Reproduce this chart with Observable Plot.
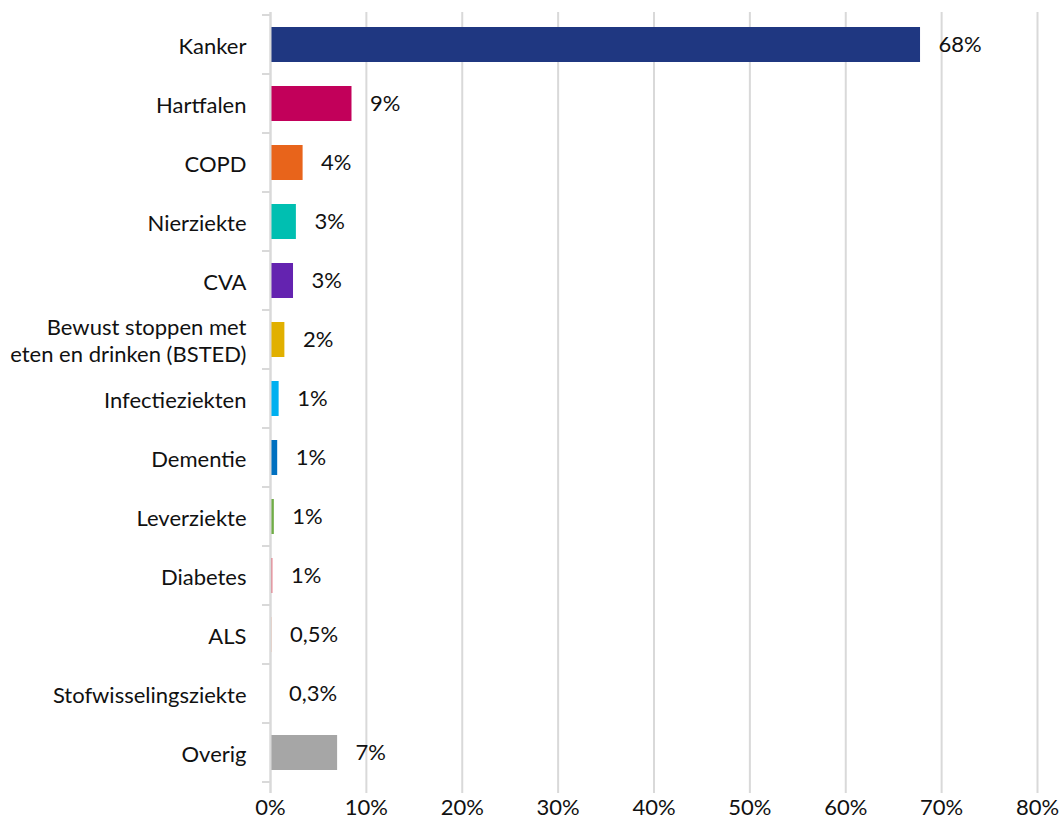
<!DOCTYPE html>
<html><head><meta charset="utf-8">
<script src="https://cdn.jsdelivr.net/npm/d3@7"></script>
<script src="https://cdn.jsdelivr.net/npm/@observablehq/plot@0.6"></script>
<style>body{margin:0;background:#fff}#c{font-family:Lato,sans-serif}</style>
</head><body><div id="c"></div>
<script>
const categories = ["Kanker","Hartfalen","COPD","Nierziekte","CVA","Bewust stoppen met\neten en drinken (BSTED)","Infectieziekten","Dementie","Leverziekte","Diabetes","ALS","Stofwisselingsziekte","Overig"];
const values = [67.8, 8.5, 3.4, 2.7, 2.4, 1.5, 0.9, 0.75, 0.4, 0.25, 0.15, 0.05, 7.0];
const valueLabels = ["68%","9%","4%","3%","3%","2%","1%","1%","1%","1%","0,5%","0,3%","7%"];
const colors = ["#1f3781","#c2005a","#e8641b","#00bfb1","#6423b0","#e1b000","#00b0f0","#0070c0","#70ad47","#e06070","#f2a585","#d0d0d0","#a6a6a6"];
const xTicks = [0,10,20,30,40,50,60,70,80];

const data = categories.map((c,i)=>({cat:c, v:values[i], lab:valueLabels[i], col:colors[i]}));

const chart = Plot.plot({
  width: 1059, height: 828,
  marginLeft: 270, marginRight: 22, marginTop: 12, marginBottom: 43,
  style: {fontFamily: "Lato, sans-serif", fontSize: "22px", color: "#000"},
  x: {domain: [0, 80], ticks: xTicks, tickFormat: d => d + "%", axis: null},
  y: {domain: categories, paddingInner: 0.41, paddingOuter: 0.205, axis: null},
  marks: [
    Plot.gridX(xTicks, {stroke: "#d9d9d9", strokeOpacity: 1, strokeWidth: 2, insetBottom: -8}),
    Plot.barX(data, {x: "v", y: "cat", fill: "col"}),
    Plot.ruleX([0], {stroke: "#d9d9d9", strokeWidth: 2, insetBottom: -8}),
    Plot.axisX({ticks: xTicks, tickFormat: d => d + "%", label: null, tickSize: 0, tickPadding: 14, fontSize: 22, fill:"#111", fontFamily:"Lato, sans-serif"}),
    Plot.text(data, {x: 0, y: "cat", text: "cat", textAnchor: "end", dx: -24, fontSize: 22, lineHeight: 1.23, fill: "#111"}),
    Plot.text(data, {x: "v", y: "cat", text: "lab", textAnchor: "start", dx: 18, fontSize: 22, fill: "#111"})
  ]
});
// category boundary tick marks on the value axis, positioned from the band scale
const ys = chart.scale("y");
const xs = chart.scale("x");
const svg = d3.select(chart);
const g = svg.append("g").attr("stroke", "#d9d9d9").attr("stroke-width", 2);
const gap = (ys.step - ys.bandwidth) / 2;
categories.forEach(c => {
  const top = ys.apply(c) - gap;
  g.append("line").attr("x1", xs.apply(0)-8).attr("x2", xs.apply(0)).attr("y1", top).attr("y2", top);
});
const last = ys.apply(categories[categories.length-1]) + ys.bandwidth + gap;
g.append("line").attr("x1", xs.apply(0)-8).attr("x2", xs.apply(0)).attr("y1", last).attr("y2", last);
document.getElementById("c").appendChild(chart);
</script>
</body></html>
